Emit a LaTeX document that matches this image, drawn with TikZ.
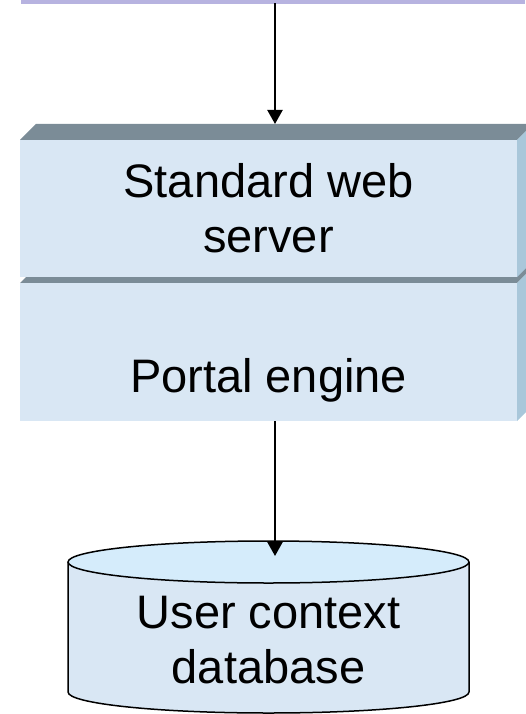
\documentclass[tikz,border=0pt]{standalone}
\usepackage{fontspec}
\setmainfont{Liberation Sans}
\usetikzlibrary{arrows.meta}
\definecolor{facecol}{HTML}{D9E7F4}
\definecolor{topcol}{HTML}{7B8C97}
\definecolor{sidecol}{HTML}{A9C7DA}
\definecolor{capcol}{HTML}{D5ECFB}
\definecolor{stripcol}{HTML}{B7B3E0}
\tikzset{
  facebox/.style={fill=facecol, draw=none, minimum width=497pt, inner sep=0pt},
  topface/.style={fill=topcol, draw=none},
  sideface/.style={fill=sidecol, draw=none},
  bigtxt/.style={font=\fontsize{47}{55}\selectfont, align=center, inner sep=0pt, anchor=base},
  conn/.style={draw=black, line width=2.2pt, -{Triangle[width=15pt,length=14pt]}},
  dbline/.style={draw=black, line width=1.5pt}
}
\begin{document}
\begin{tikzpicture}[x=1pt,y=-1pt]
\useasboundingbox (0,0) rectangle (525,714);
% partially visible strip at top
\node[fill=stripcol, draw=none, inner sep=0pt, minimum width=504pt, minimum height=3.5pt, anchor=north west] (strip) at (21,0) {};
% box 2 (portal engine)
\fill[topface] (20,283) -- (36,267) -- (533,267) -- (517,283) -- cycle;
\fill[sideface] (517,283) -- (533,267) -- (533,405) -- (517,421) -- cycle;
\node[facebox, minimum height=138pt, anchor=north west] (portal) at (20,283) {};
\node[bigtxt] (portaltxt) at (268.5,392) {Portal engine};
% box 1 (standard web server)
\fill[topface] (20,140) -- (36,124) -- (533,124) -- (517,140) -- cycle;
\fill[sideface] (517,140) -- (533,124) -- (533,261) -- (517,277) -- cycle;
\node[facebox, minimum height=137pt, anchor=north west] (web) at (20,140) {};
\node[bigtxt] (webtxt) at (268.5,252) {Standard web\\server};
% database cylinder
\fill[facecol] (68,562) -- (68,692) arc[start angle=180, end angle=360, x radius=200.5, y radius=-21] -- (469,562) -- cycle;
\draw[dbline] (68,562) -- (68,692) arc[start angle=180, end angle=360, x radius=200.5, y radius=-21] -- (469,562);
\draw[dbline, fill=capcol] (268.5,562) ellipse[x radius=200.5, y radius=21];
\node[bigtxt] (dbtxt) at (268.5,683) {User context\\database};
% connectors
\coordinate (a1s) at (275,3.5);
\coordinate (a1e) at (275,124);
\coordinate (a2s) at (275,421);
\coordinate (a2e) at (275,556);
\draw[conn] (a1s) -- (a1e);
\draw[conn] (a2s) -- (a2e);
\end{tikzpicture}
\end{document}
